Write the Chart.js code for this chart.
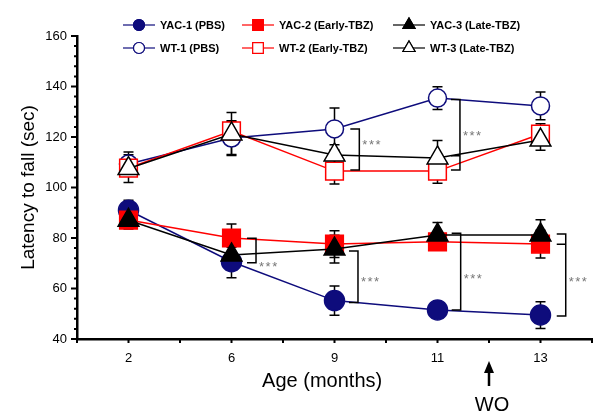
<!DOCTYPE html>
<html>
<head>
<meta charset="utf-8">
<script src="https://cdn.jsdelivr.net/npm/chart.js@4/dist/chart.umd.min.js"></script>
<style>
  html, body { margin: 0; padding: 0; background: #fff; overflow: hidden; }
  #wrap { width: 600px; height: 420px; position: relative; }
  #rotarod { display: block; }
</style>
</head>
<body>
<div id="wrap"><canvas id="rotarod"></canvas></div>
<script>
// ages in months (x categories)
const ages = ['2', '6', '9', '11', '13'];

// latency to fall (sec), mean and SEM
const yac1 = [91, 70.6, 55.2, 51.5, 49.5];
const yac1Err = [4, 6.3, 5.8, 2.5, 5.3];
const yac2 = [87.1, 80, 77.6, 78.5, 77.6];
const yac2Err = [3.5, 5.5, 5.3, 3, 5.5];
const yac3 = [87, 73.3, 75.6, 81.2, 81.2];
const yac3Err = [3, 3, 5.5, 4.9, 6];
const wt1 = [109.3, 119.6, 123.2, 135.4, 132.3];
const wt1Err = [4.8, 6.5, 8.3, 4.5, 5.5];
const wt2 = [107.7, 122.4, 106.5, 106.5, 121.2];
const wt2Err = [3, 4, 5.1, 4.8, 4];
const wt3 = [107.5, 121.2, 112.9, 111.7, 118.8];
const wt3Err = [5.5, 8.5, 4, 6.9, 4];

// significance brackets (x in category units, y in sec)
const brackets = [
  { x: 1.238, top: 79.9, bottom: 70.2, mid: null, label: 70.1 },
  { x: 2.228, top: 74.9, bottom: 54.5, mid: null, label: 64.2 },
  { x: 3.225, top: 81.9, bottom: 51.5, mid: null, label: 65.3 },
  { x: 4.245, top: 81.6, bottom: 49.1, mid: 77.5, label: 64.2 },
  { x: 2.241, top: 123.2, bottom: 106.9, mid: null, label: 118.4 },
  { x: 3.218, top: 134.9, bottom: 106.9, mid: 112.6, label: 122 }
];

const navy = '#0e0c7c';
const red = '#ff0000';
const black = '#000000';
const FONT = '"Liberation Sans", Arial, sans-serif';

function series(label, data, err, color, style, radius, filled, order) {
  return {
    label: label,
    data: data,
    err: err,
    order: order,
    borderColor: color,
    borderWidth: 1.5,
    pointStyle: style,
    pointRadius: radius,
    pointHoverRadius: radius,
    pointBorderWidth: 1.5,
    pointBorderColor: color,
    pointBackgroundColor: filled ? color : '#ffffff',
    backgroundColor: filled ? color : '#ffffff',
    tension: 0,
    fill: false
  };
}

const errorBars = {
  id: 'errorBars',
  beforeDatasetsDraw(chart) {
    const ctx = chart.ctx;
    const y = chart.scales.y;
    ctx.save();
    ctx.strokeStyle = '#000';
    ctx.lineWidth = 1.5;
    chart.data.datasets.forEach((ds, i) => {
      const meta = chart.getDatasetMeta(i);
      meta.data.forEach((pt, j) => {
        const e = ds.err[j];
        const top = y.getPixelForValue(ds.data[j] + e);
        const bot = y.getPixelForValue(ds.data[j] - e);
        ctx.beginPath();
        ctx.moveTo(pt.x, top); ctx.lineTo(pt.x, bot);
        ctx.moveTo(pt.x - 5, top); ctx.lineTo(pt.x + 5, top);
        ctx.moveTo(pt.x - 5, bot); ctx.lineTo(pt.x + 5, bot);
        ctx.stroke();
      });
    });
    ctx.restore();
  }
};

function drawMarker(ctx, style, x, y, r, color, filled) {
  ctx.save();
  ctx.strokeStyle = color;
  ctx.fillStyle = filled ? color : '#fff';
  ctx.lineWidth = 1.2;
  Chart.helpers.drawPoint(ctx, { pointStyle: style, radius: r, borderWidth: 1.2 }, x, y);
  ctx.fill();
  ctx.stroke();
  ctx.restore();
}

const extras = {
  id: 'extras',
  afterDraw(chart) {
    const ctx = chart.ctx;
    const xs = chart.scales.x;
    const ys = chart.scales.y;
    const area = chart.chartArea;
    ctx.save();

    // axis ticks
    ctx.strokeStyle = '#000';
    ctx.lineWidth = 2;
    ctx.beginPath();
    for (let k = 0; k <= ages.length * 2; k++) {
      const px = xs.getPixelForValue(k / 2 - 0.5);
      ctx.moveTo(px, area.bottom); ctx.lineTo(px, area.bottom + 4);
    }
    for (let v = 40; v <= 160; v += 4) {
      const py = ys.getPixelForValue(v);
      const len = v % 20 === 0 ? 6 : 3;
      ctx.moveTo(area.left, py); ctx.lineTo(area.left - len, py);
    }
    ctx.stroke();

    // brackets
    ctx.lineWidth = 1.5;
    ctx.font = '13px ' + FONT;
    ctx.fillStyle = '#777';
    ctx.textAlign = 'left';
    ctx.textBaseline = 'alphabetic';
    if ('letterSpacing' in ctx) ctx.letterSpacing = '1.5px';
    brackets.forEach(b => {
      const bx = xs.getPixelForValue(b.x);
      const t = ys.getPixelForValue(b.top);
      const bt = ys.getPixelForValue(b.bottom);
      ctx.beginPath();
      ctx.moveTo(bx - 9, t); ctx.lineTo(bx, t); ctx.lineTo(bx, bt); ctx.lineTo(bx - 9, bt);
      if (b.mid !== null) {
        const m = ys.getPixelForValue(b.mid);
        ctx.moveTo(bx - 9, m); ctx.lineTo(bx, m);
      }
      ctx.stroke();
      ctx.fillText('***', bx + 3, ys.getPixelForValue(b.label) + 8);
    });
    if ('letterSpacing' in ctx) ctx.letterSpacing = '0px';

    // x axis title (sits left of centre in the original)
    ctx.fillStyle = '#000';
    ctx.font = '20px ' + FONT;
    ctx.textAlign = 'center';
    ctx.textBaseline = 'middle';
    ctx.fillText('Age (months)', xs.getPixelForValue(1.88), 381);

    // WO arrow
    const wx = xs.getPixelForValue(3.5);
    ctx.beginPath();
    ctx.moveTo(wx, 361); ctx.lineTo(wx - 5, 373); ctx.lineTo(wx + 5, 373); ctx.closePath();
    ctx.fill();
    ctx.lineWidth = 2.5;
    ctx.beginPath();
    ctx.moveTo(wx, 370); ctx.lineTo(wx, 386);
    ctx.stroke();
    ctx.fillText('WO', wx + 3, 405);

    // legend
    const cols = [123, 242, 393];
    const rows = [25, 48];
    ctx.font = 'bold 11px ' + FONT;
    ctx.textAlign = 'left';
    ctx.textBaseline = 'middle';
    chart.data.datasets.forEach((ds, i) => {
      const cx = cols[i % 3];
      const cy = rows[Math.floor(i / 3)];
      ctx.strokeStyle = ds.borderColor;
      ctx.lineWidth = 1.2;
      ctx.beginPath();
      ctx.moveTo(cx, cy); ctx.lineTo(cx + 32, cy);
      ctx.stroke();
      const filled = ds.pointBackgroundColor !== '#ffffff';
      const r = ds.pointStyle === 'circle' ? 5.5 : (ds.pointStyle === 'rect' ? 7.5 : 7);
      drawMarker(ctx, ds.pointStyle, cx + 16, cy, r, ds.borderColor, filled);
      ctx.fillStyle = '#000';
      ctx.fillText(ds.label, cx + 37, cy + 1);
    });

    ctx.restore();
  }
};

new Chart(document.getElementById('rotarod'), {
  type: 'line',
  data: {
    labels: ages,
    datasets: [
      series('YAC-1 (PBS)', yac1, yac1Err, navy, 'circle', 10, true, 5),
      series('YAC-2 (Early-TBZ)', yac2, yac2Err, red, 'rect', 12.5, true, 3),
      series('YAC-3 (Late-TBZ)', yac3, yac3Err, black, 'triangle', 12, true, 1),
      series('WT-1 (PBS)', wt1, wt1Err, navy, 'circle', 9, false, 6),
      series('WT-2 (Early-TBZ)', wt2, wt2Err, red, 'rect', 12.5, false, 4),
      series('WT-3 (Late-TBZ)', wt3, wt3Err, black, 'triangle', 12, false, 2)
    ]
  },
  options: {
    responsive: true,
    maintainAspectRatio: false,
    animation: false,
    layout: { autoPadding: false, padding: { top: 36, right: 8, left: 0, bottom: 0 } },
    plugins: {
      legend: { display: false },
      tooltip: { enabled: false }
    },
    scales: {
      x: {
        type: 'category',
        offset: true,
        grid: { display: true, drawOnChartArea: false, drawTicks: false },
        border: { color: '#000', width: 2.5 },
        ticks: { color: '#000', font: { family: FONT, size: 13 }, padding: 12, maxRotation: 0 },
        afterFit(scale) {
          scale.height = 81;
          scale.paddingLeft = 0;
          scale.paddingRight = 0;
        }
      },
      y: {
        min: 40,
        max: 160,
        grid: { display: true, drawOnChartArea: false, drawTicks: false },
        border: { color: '#000', width: 2.5 },
        ticks: { stepSize: 20, color: '#000', font: { family: FONT, size: 13 }, padding: 10 },
        title: {
          display: true,
          text: 'Latency to fall (sec)',
          color: '#000',
          font: { family: FONT, size: 19 },
          padding: { top: 17, bottom: 0 }
        },
        afterFit(scale) { scale.width = 77; }
      }
    }
  },
  plugins: [errorBars, extras]
});
</script>
</body>
</html>
